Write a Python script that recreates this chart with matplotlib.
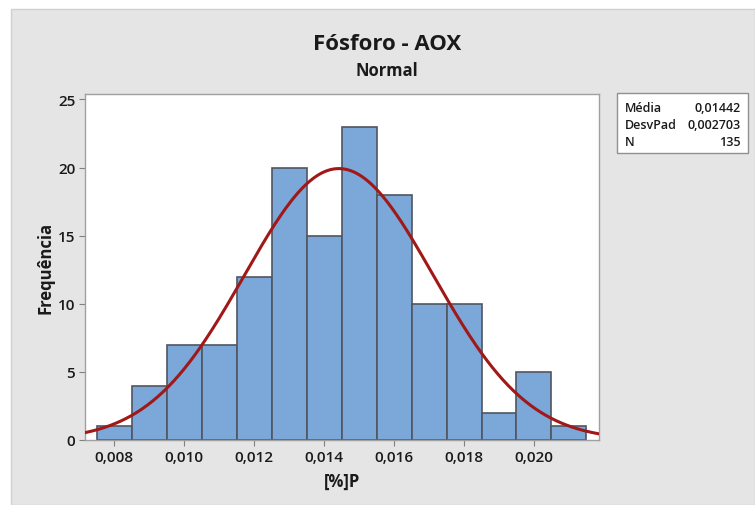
import numpy as np
import matplotlib
matplotlib.use("Agg")
import matplotlib.pyplot as plt
from matplotlib.patches import Rectangle

plt.rcParams['font.family'] = ['Open Sans', 'DejaVu Sans']

# Histogram data: bin centres (%P) and counts
bin_centers = [0.008, 0.009, 0.010, 0.011, 0.012, 0.013, 0.014,
               0.015, 0.016, 0.017, 0.018, 0.019, 0.020, 0.021]
counts = [1, 4, 7, 7, 12, 20, 15, 23, 18, 10, 10, 2, 5, 1]
bin_width = 0.001

# Fitted normal distribution summary
mean = 0.01442
std = 0.002703
n = 135

x_ticks = [0.008, 0.010, 0.012, 0.014, 0.016, 0.018, 0.020]
x_tick_labels = ["0,008", "0,010", "0,012", "0,014", "0,016", "0,018", "0,020"]
y_ticks = [0, 5, 10, 15, 20, 25]

W, H = 755, 506
fig = plt.figure(figsize=(W / 100, H / 100), dpi=100)
fig.patch.set_facecolor("white")

# grey panel behind the chart
fig.patches.append(Rectangle((11 / W, 0), 1 - 11 / W, 1 - 10 / H,
                             transform=fig.transFigure, facecolor="#e5e5e5",
                             edgecolor="#d0d0d0", linewidth=1.0, zorder=-10))

ax = fig.add_axes([85 / W, 1 - 441 / H, (599 - 85) / W, (441 - 95) / H])
ax.set_facecolor("white")

ax.bar(bin_centers, counts, width=bin_width, color="#7ba7d9",
       edgecolor="#505560", linewidth=1.2, zorder=2)

xs = np.linspace(0.0070, 0.0222, 400)
pdf = n * bin_width * np.exp(-0.5 * ((xs - mean) / std) ** 2) / (std * np.sqrt(2 * np.pi))
ax.plot(xs, pdf, color="#a01818", linewidth=2.2, zorder=3)

ax.set_xlim(0.00716, 0.02186)
ax.set_ylim(0, 25.4)
ax.set_xticks(x_ticks)
ax.set_xticklabels(x_tick_labels)
ax.set_yticks(y_ticks)
ax.tick_params(axis="both", labelsize=11, color="#808080", length=4,
               width=0.8, pad=3, labelcolor="#1a1a1a")
for lbl in ax.get_xticklabels() + ax.get_yticklabels():
    lbl.set_fontweight("semibold")
for s in ax.spines.values():
    s.set_color("#a0a0a0")
    s.set_linewidth(1.0)

ax.set_xlabel("[%]P", fontsize=12, fontweight="bold", labelpad=6, color="#1a1a1a")
ax.set_ylabel("Frequência", fontsize=12, fontweight="bold", labelpad=2, color="#1a1a1a")

fig.text(387 / W, 1 - 45 / H, "Fósforo - AOX", ha="center", va="center",
         fontsize=16, fontweight="bold", color="#1a1a1a")
fig.text(387 / W, 1 - 71 / H, "Normal", ha="center", va="center",
         fontsize=12, fontweight="bold", color="#1a1a1a")

# statistics box
fig.patches.append(Rectangle((617 / W, 1 - 154 / H), (748 - 617) / W, (154 - 94) / H,
                             transform=fig.transFigure, facecolor="white",
                             edgecolor="#909090", linewidth=1.0, zorder=5))
rows = [("Média", "0,01442"), ("DesvPad", "0,002703"), ("N", f"{n}")]
for i, (k, v) in enumerate(rows):
    yy = 1 - (109 + 16.7 * i) / H
    fig.text(625 / W, yy, k, ha="left", va="center", fontsize=9.0,
             fontweight="semibold", color="#1a1a1a", zorder=6)
    fig.text(741 / W, yy, v, ha="right", va="center", fontsize=9.0,
             fontweight="semibold", color="#1a1a1a", zorder=6)

fig.savefig("out.png", dpi=100, facecolor=fig.get_facecolor())
